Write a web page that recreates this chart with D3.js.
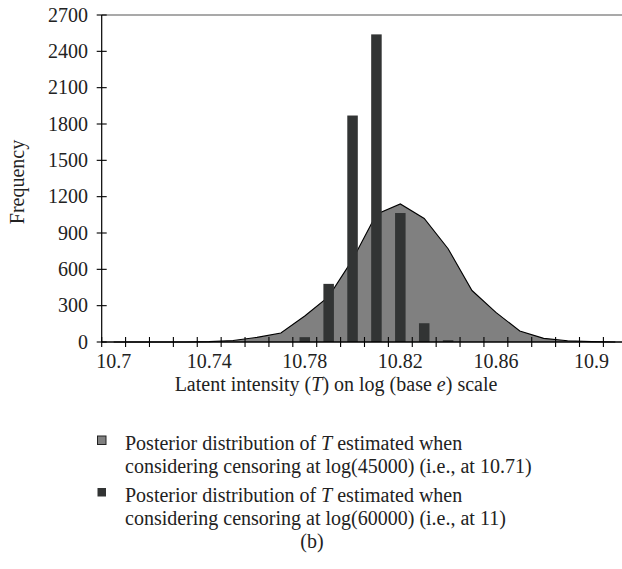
<!DOCTYPE html>
<html>
<head>
<meta charset="utf-8">
<script src="https://cdn.jsdelivr.net/npm/d3@7/dist/d3.min.js"></script>
<style>
  html, body { margin: 0; padding: 0; background: #fff; }
  svg { display: block; }
  text { font-family: "Liberation Serif", "DejaVu Serif", serif; fill: #222; }
</style>
</head>
<body>
<svg id="chart" width="622" height="569"></svg>
<script>
// ---- data ----
const categories = ["10.7","10.71","10.72","10.73","10.74","10.75","10.76","10.77","10.78","10.79","10.8",
                    "10.81","10.82","10.83","10.84","10.85","10.86","10.87","10.88","10.89","10.9","10.91"];
const shownLabels = ["10.7","10.74","10.78","10.82","10.86","10.9"];
const censor45000 = [0,0,0,0,3,12,38,75,215,375,680,1055,1140,1020,770,425,245,91,30,10,3,0];
const censor60000 = [0,0,0,0,0,0,0,0,40,480,1870,2540,1065,155,15,0,0,0,0,0,0,0];
const yTicks = [0,300,600,900,1200,1500,1800,2100,2400,2700];
const legendEntries = [
  ["Posterior distribution of |T| estimated when", "considering censoring at log(45000) (i.e., at 10.71)"],
  ["Posterior distribution of |T| estimated when", "considering censoring at log(60000) (i.e., at 11)"]
];

// ---- layout ----
const svg = d3.select("#chart");
const plotLeft = 101.7, plotTop = 15, plotBottom = 342, step = 23.89;
const x = d3.scaleBand().domain(categories).range([plotLeft, plotLeft + step * categories.length]).padding(0);
const y = d3.scaleLinear().domain([0, 2700]).range([plotBottom, plotTop]);
const areaColor = "#808080", barColor = "#323434";

// area series
const area = d3.area()
  .x((d, i) => x(categories[i]) + x.bandwidth() / 2)
  .y0(y(0)).y1(d => y(d));
const line = d3.line()
  .x((d, i) => x(categories[i]) + x.bandwidth() / 2)
  .y(d => y(d));
svg.append("path").datum(censor45000).attr("d", area).attr("fill", areaColor);
svg.append("path").datum(censor45000).attr("d", line).attr("fill", "none")
  .attr("stroke", "#000").attr("stroke-width", 1.1);

// bars
const bw = x.bandwidth() * 0.44;
svg.append("g").selectAll("rect").data(censor60000).join("rect")
  .attr("x", (d, i) => x(categories[i]) + x.bandwidth() / 2 - bw / 2)
  .attr("width", bw)
  .attr("y", d => y(d))
  .attr("height", d => y(0) - y(d))
  .attr("fill", barColor);

// top border
svg.append("line").attr("x1", plotLeft).attr("x2", 622).attr("y1", y(2700)).attr("y2", y(2700))
  .attr("stroke", "#555").attr("stroke-width", 1.2);

// y axis
const gy = svg.append("g");
gy.append("line").attr("x1", plotLeft).attr("x2", plotLeft).attr("y1", y(0)).attr("y2", y(2700))
  .attr("stroke", "#000").attr("stroke-width", 1.2);
gy.selectAll("line.t").data(yTicks).join("line").attr("class", "t")
  .attr("x1", plotLeft - 5).attr("x2", plotLeft + 5).attr("y1", d => y(d)).attr("y2", d => y(d))
  .attr("stroke", "#000").attr("stroke-width", 1.1);
gy.selectAll("text").data(yTicks).join("text")
  .attr("x", 88).attr("y", d => y(d)).attr("dy", "0.34em")
  .attr("text-anchor", "end").attr("font-size", 20).text(d => d);

// x axis
const gx = svg.append("g");
gx.append("line").attr("x1", plotLeft).attr("x2", 622).attr("y1", y(0)).attr("y2", y(0))
  .attr("stroke", "#000").attr("stroke-width", 1.4);
const tickPos = categories.map(c => x(c)).concat([x.range()[1]]);
gx.selectAll("line.t").data(tickPos).join("line").attr("class", "t")
  .attr("x1", d => d).attr("x2", d => d).attr("y1", y(0) - 5).attr("y2", y(0) + 5)
  .attr("stroke", "#000").attr("stroke-width", 1.1);
gx.selectAll("text").data(shownLabels).join("text")
  .attr("x", d => x(d) + x.bandwidth() / 2).attr("y", 368)
  .attr("text-anchor", "middle").attr("font-size", 20).text(d => d);

// axis titles
const xt = svg.append("text").attr("x", 336).attr("y", 391).attr("text-anchor", "middle").attr("font-size", 20);
xt.append("tspan").text("Latent intensity (");
xt.append("tspan").attr("font-style", "italic").text("T");
xt.append("tspan").text(") on log (base ");
xt.append("tspan").attr("font-style", "italic").text("e");
xt.append("tspan").text(") scale");

svg.append("text").attr("transform", "translate(24,182) rotate(-90)")
  .attr("text-anchor", "middle").attr("font-size", 20).text("Frequency");

// legend
const lg = svg.append("g");
const legY = [450, 502];
legendEntries.forEach((lines, k) => {
  lg.append("rect").attr("x", 97.5).attr("y", legY[k] - 14).attr("width", 8.5).attr("height", 8.5)
    .attr("fill", k === 0 ? areaColor : barColor)
    .attr("stroke", k === 0 ? "#222" : "none").attr("stroke-width", 1);
  lines.forEach((ln, j) => {
    const t = lg.append("text").attr("x", 125).attr("y", legY[k] + j * 22.5).attr("font-size", 20);
    ln.split("|").forEach((part, p) => {
      t.append("tspan").attr("font-style", p % 2 ? "italic" : null).text(part);
    });
  });
});

svg.append("text").attr("x", 312).attr("y", 548).attr("text-anchor", "middle").attr("font-size", 20).text("(b)");
</script>
</body>
</html>
